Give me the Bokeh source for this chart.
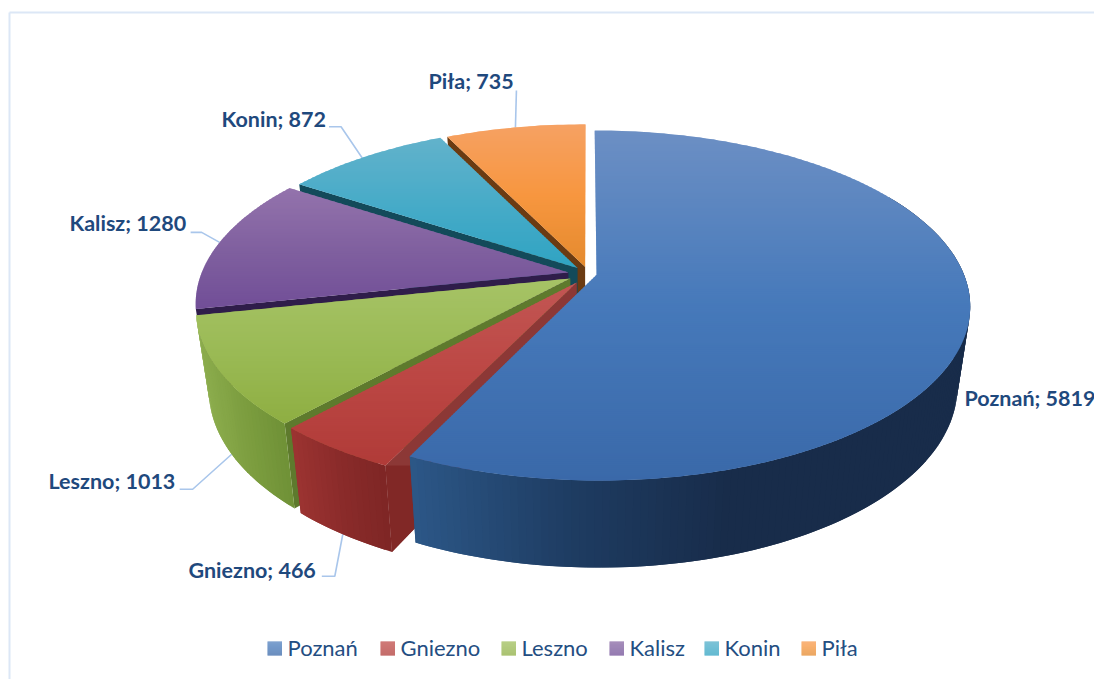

import math
from bokeh.plotting import figure
from bokeh.embed import file_html
from bokeh.resources import INLINE
from bokeh.core.properties import value

# ---- data ----
categories = ["Poznań", "Gniezno", "Leszno", "Kalisz", "Konin", "Piła"]
values = [5819, 466, 1013, 1280, 872, 735]

# ---- styles: vertical top gradient stops, wall left/right, cut face ----
top_stops = {
    "Poznań": ["#6C8FC4", "#4679BA", "#3A69A9"],
    "Gniezno": ["#C25653", "#BC4744", "#B03B38"],
    "Leszno": ["#A6C366", "#9ABA55", "#8EAE42"],
    "Kalisz": ["#9373AC", "#80609F", "#714E97"],
    "Konin": ["#62B2CB", "#47ABC8", "#2FA3C2"],
    "Piła": ["#F6A163", "#F7963F", "#E48A2E"],
}
wall_cols = {
    "Poznań": ["#2C5787", "#1E3C62", "#182C4A"],
    "Gniezno": ["#9C3331", "#8A2B2A", "#7E2625"],
    "Leszno": ["#8DAE4E", "#7D9E40", "#6F9136"],
}
cut_cols = {"Poznań": "#1E3C62", "Gniezno": "#8C3836", "Leszno": "#5E7A2D",
            "Kalisz": "#2F1D4A", "Konin": "#134A5A", "Piła": "#6B3B12"}
cut_lower = {"Gniezno": "#812826"}
label_col = "#1F497D"
legend_col = "#244E82"
leader_col = "#A9C6EB"
frame_col = "#DCE7F6"

# ---- projection parameters (disk coords -> screen pixels) ----
CX, CY, A, B, K = 583.5, 273.0, 367.0, 169.2, 0.175
SHRINK, D0, D1 = 0.967, 78.0, 9.0
EXPL = 0.035
# small per-slice layout nudges, in pixels
nudge = {"Poznań": (0, 0), "Gniezno": (0, 4), "Leszno": (-2.5, 2),
         "Kalisz": (-3, 0), "Konin": (2, -1), "Piła": (4, -1)}

def hexmix(c1, c2, t):
    a = [int(c1[i:i + 2], 16) for i in (1, 3, 5)]
    b = [int(c2[i:i + 2], 16) for i in (1, 3, 5)]
    return "#%02X%02X%02X" % tuple(round(a[i] + (b[i] - a[i]) * t) for i in range(3))

def ramp(stops, t):
    t = max(0.0, min(1.0, t))
    if t < 0.5:
        return hexmix(stops[0], stops[1], t * 2)
    return hexmix(stops[1], stops[2], (t - 0.5) * 2)

def top_pt(c, u, v):
    w = 1 + K * v
    return CX + A * u / w + nudge[c][0], CY - B * v / w + nudge[c][1]

def bot_pt(c, u, v):
    x, y = top_pt(c, u, v)
    return CX + SHRINK * (x - CX), y + D0 - D1 * v

def clip_y(poly, y0, y1):
    def clip(pts, inside, cross):
        out = []
        for i in range(len(pts)):
            a, b = pts[i], pts[(i + 1) % len(pts)]
            ia, ib = inside(a), inside(b)
            if ia:
                out.append(a)
            if ia != ib:
                out.append(cross(a, b))
        return out
    def cr(yv):
        return lambda a, b: (a[0] + (b[0] - a[0]) * (yv - a[1]) / (b[1] - a[1]), yv)
    r = clip(poly, lambda p: p[1] >= y0, cr(y0))
    if r:
        r = clip(r, lambda p: p[1] <= y1, cr(y1))
    return r

p = figure(width=1094, height=679, x_range=(0, 1094), y_range=(679, 0),
           output_backend="svg", toolbar_location=None, min_border=0,
           background_fill_color="white", border_fill_color="white")
p.axis.visible = False
p.grid.visible = False
p.outline_line_color = None

# chart frame
p.line([9, 9], [679, 12], line_color=frame_col, line_width=2)
p.line([9, 1094], [12, 12], line_color=frame_col, line_width=2)

# slice geometry
total = sum(values)
spans = {}
acc = 0.0
for c, val in zip(categories, values):
    spans[c] = (acc, acc + 360.0 * val / total)
    acc += 360.0 * val / total

def disk(c, deg):
    s, e = spans[c]
    m = math.radians((s + e) / 2)
    t = math.radians(deg)
    return math.sin(t) + EXPL * math.sin(m), math.cos(t) + EXPL * math.cos(m)

def apex(c):
    s, e = spans[c]
    m = math.radians((s + e) / 2)
    return EXPL * math.sin(m), EXPL * math.cos(m)

def rim_anchor(c, frac):
    s, e = spans[c]
    return top_pt(c, *disk(c, s + (e - s) * frac))

def wall_anchor(c, frac):
    s, e = spans[c]
    return bot_pt(c, *disk(c, s + (e - s) * frac))

# leader lines, under the slices
leaders = {
    "Piła": (rim_anchor("Piła", 0.5), [(1, -37)]),
    "Konin": (rim_anchor("Konin", 0.48), [(-21, -31), (-33, -31)]),
    "Kalisz": (rim_anchor("Kalisz", 0.5), [(-18, -10), (-29, -10)]),
    "Leszno": (wall_anchor("Leszno", 0.5), [(-39, 35), (-52, 35)]),
    "Gniezno": (wall_anchor("Gniezno", 0.5), [(-8, 42), (-21, 42)]),
}
for c, (a, offs) in leaders.items():
    p.line([a[0]] + [a[0] + o[0] for o in offs], [a[1]] + [a[1] + o[1] for o in offs],
           line_color=leader_col, line_width=1.6)

def draw_slice(c):
    s, e = spans[c]
    n = max(6, int((e - s) / 1.0))
    degs = [s + (e - s) * i / n for i in range(n + 1)]
    ax, ay = apex(c)
    # cut face at the slice's start edge
    ou, ov = disk(c, s)
    f = [top_pt(c, ax, ay), top_pt(c, ou, ov), bot_pt(c, ou, ov), bot_pt(c, ax, ay)]
    if c != "Poznań":
        p.patch([q[0] for q in f], [q[1] for q in f], fill_color=cut_cols[c], line_color=None)
        if c in cut_lower:
            low = clip_y(f, top_pt(c, ou, ov)[1], 9999)
            p.patch([q[0] for q in low], [q[1] for q in low], fill_color=cut_lower[c], line_color=None)
    rim = [top_pt(c, *disk(c, d)) for d in degs]
    # outer wall, coloured along x; each quad overlaps the next to hide seams
    if c in wall_cols:
        wxs, wys, wcs = [], [], []
        rimb = [bot_pt(c, *disk(c, d)) for d in degs]
        xs_all = [q[0] for q in rim]
        x0, x1 = min(xs_all), max(xs_all)
        for i in range(n):
            if c == "Poznań" and degs[i] < 60:
                continue
            j = min(i + 2, n)
            a, b, cc, dd = rim[i], rim[j], rimb[j], rimb[i]
            xm = (a[0] + rim[i + 1][0]) / 2
            wxs.append([a[0], b[0], cc[0], dd[0]])
            wys.append([a[1], b[1], cc[1], dd[1]])
            if c == "Poznań":
                wcs.append(ramp(wall_cols[c], (xm - 410) / 320))
            else:
                wcs.append(ramp(wall_cols[c], (xm - x0) / max(x1 - x0, 1)))
        p.patches(wxs, wys, fill_color=wcs, line_color=None)
    # top face in horizontal bands on whole pixels
    poly = [top_pt(c, ax, ay)] + rim
    ys = [q[1] for q in poly]
    y0, y1 = min(ys), max(ys)
    bxs, bys, bcs = [], [], []
    y = math.floor(y0)
    step = 2
    while y < y1:
        band = clip_y(poly, y, y + step + 1)
        if len(band) >= 3:
            bxs.append([q[0] for q in band])
            bys.append([q[1] for q in band])
            bcs.append(ramp(top_stops[c], (y - y0) / (y1 - y0)))
        y += step
    p.patches(bxs, bys, fill_color=bcs, line_color=None)

for c in ["Piła", "Konin", "Kalisz", "Leszno", "Gniezno", "Poznań"]:
    draw_slice(c)

# data labels
label_pos = {"Poznań": (964, 397), "Gniezno": (188, 569.5), "Leszno": (48, 480.5),
             "Kalisz": (69, 222.5), "Konin": (221, 118), "Piła": (428, 80.5)}
for c, val in zip(categories, values):
    x, y = label_pos[c]
    p.text([x], [y], text=[f"{c}; {val}"], text_font=value("Lato"), text_font_size="21.5px",
           text_font_style="bold", text_color=label_col, text_baseline="middle", text_align="left")

# legend
legend_sq = [267, 380, 501, 609, 704, 801]
legend_tx = [287, 400, 521, 629, 724, 821]
for c, sx, tx in zip(categories, legend_sq, legend_tx):
    for i in range(14):
        col = ramp(top_stops[c], 0.3 + 0.7 * i / 13)
        p.quad(left=[sx], right=[sx + 14.5], top=[641 + i], bottom=[642 + i], fill_color=col, line_color=None)
    p.text([tx], [646.5], text=[c], text_font=value("Lato"), text_font_size="22px",
           text_color=legend_col, text_baseline="middle", text_align="left")

open("out.html", "w").write(file_html(p, INLINE))
